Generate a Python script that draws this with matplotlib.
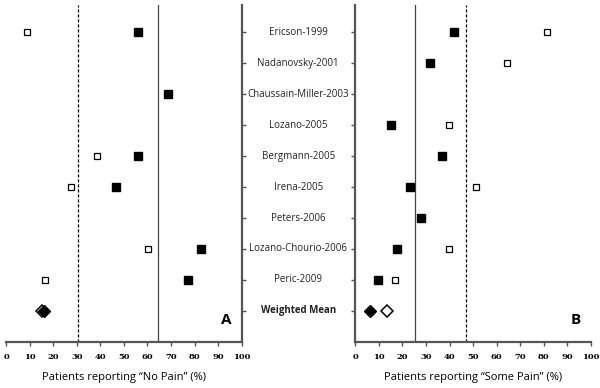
import numpy as np
import matplotlib.pyplot as plt
import matplotlib.transforms as mtransforms

studies = ['Ericson-1999', 'Nadanovsky-2001', 'Chaussain-Miller-2003', 'Lozano-2005',
           'Bergmann-2005', 'Irena-2005', 'Peters-2006', 'Lozano-Chourio-2006',
           'Peric-2009', 'Weighted Mean']

# panel A: no pain (%), None = not reported
nopain_filled = [55.8, None, 68.5, None, 56.0, 46.6, None, 82.6, 77.0]
nopain_open = [8.8, None, None, None, 38.8, 27.4, None, 60.3, 16.5]
nopain_mean_filled = 16.3
nopain_mean_open = 15.2
nopain_dashed = 30.4
nopain_solid = 64.5

# panel B: some pain (%)
somepain_filled = [42.1, 31.8, None, 15.1, 36.9, 23.2, 27.8, 17.7, 9.6]
somepain_open = [81.2, 64.5, None, 39.8, None, 51.4, None, 39.8, 16.7]
somepain_mean_filled = 6.1
somepain_mean_open = 13.4
somepain_solid = 25.4
somepain_dashed = 47.0

xticks = np.arange(0, 101, 10)
ypos = np.arange(len(studies), 0, -1)  # 10 .. 1

plt.rcParams['font.family'] = ['Open Sans', 'DejaVu Sans']

fig = plt.figure(figsize=(6, 3.88), dpi=100)
ax1 = fig.add_axes([0.01, 0.119, 0.393, 0.868])
ax2 = fig.add_axes([0.592, 0.119, 0.393, 0.868])

spine_col = '#555555'


def draw_panel(ax, filled, opened, mean_f, mean_o, solid_x, dashed_x, xlabel, letter, side):
    yy = ypos[:-1]
    for y, v in zip(yy, opened):
        if v is not None:
            ax.plot(v, y, 's', ms=5.0, mfc='white', mec='black', mew=0.9, zorder=3)
    for y, v in zip(yy, filled):
        if v is not None:
            ax.plot(v, y, 's', ms=5.2, mfc='black', mec='black', zorder=4)
    ax.plot(mean_o, ypos[-1], 'D', ms=6, mfc='white', mec='black', mew=1.1, zorder=3)
    ax.plot(mean_f, ypos[-1], 'D', ms=6, mfc='black', mec='black', zorder=4)

    ax.axvline(solid_x, color='#444444', lw=0.9, zorder=1)
    ax.axvline(dashed_x, color='black', lw=0.9, ls=(0, (2.5, 1.5)), zorder=1)

    ax.set_xlim(0, 100)
    ax.set_ylim(0, 10.88)
    ax.set_xticks(xticks)
    ax.set_xticklabels([str(t) for t in xticks], fontsize=6, fontweight='bold',
                       family=['DejaVu Serif'])
    ax.set_yticks(ypos)
    ax.set_yticklabels([])
    ax.tick_params(axis='x', direction='out', length=3, width=1, color=spine_col, pad=5)
    ax.tick_params(axis='y', direction='out', length=3, width=1, color=spine_col)
    ax.set_xlabel(xlabel, fontsize=8, labelpad=8)
    ax.spines['top'].set_visible(False)
    if side == 'left':
        ax.spines['left'].set_visible(False)
        ax.yaxis.tick_right()
        ax.spines['right'].set_color(spine_col)
        ax.spines['right'].set_linewidth(1.6)
    else:
        ax.spines['right'].set_visible(False)
        ax.spines['left'].set_color(spine_col)
        ax.spines['left'].set_linewidth(1.6)
    ax.spines['bottom'].set_color(spine_col)
    ax.spines['bottom'].set_linewidth(1.6)
    ax.text(0.935, 0.065, letter, transform=ax.transAxes, fontsize=11,
            fontweight='bold', ha='center', va='center')


draw_panel(ax1, nopain_filled, nopain_open, nopain_mean_filled, nopain_mean_open,
           nopain_solid, nopain_dashed, 'Patients reporting \u201cNo Pain\u201d (%)', 'A', 'left')
draw_panel(ax2, somepain_filled, somepain_open, somepain_mean_filled, somepain_mean_open,
           somepain_solid, somepain_dashed, 'Patients reporting \u201cSome Pain\u201d (%)', 'B', 'right')

# study names in the middle strip
trans = mtransforms.blended_transform_factory(fig.transFigure, ax1.transData)
for y, name in zip(ypos, studies):
    fig.text(0.497, y, name, transform=trans, ha='center', va='center', fontsize=7,
             fontweight='bold' if name == 'Weighted Mean' else 'normal', color='#222222')

fig.savefig('out.png', dpi=100)
